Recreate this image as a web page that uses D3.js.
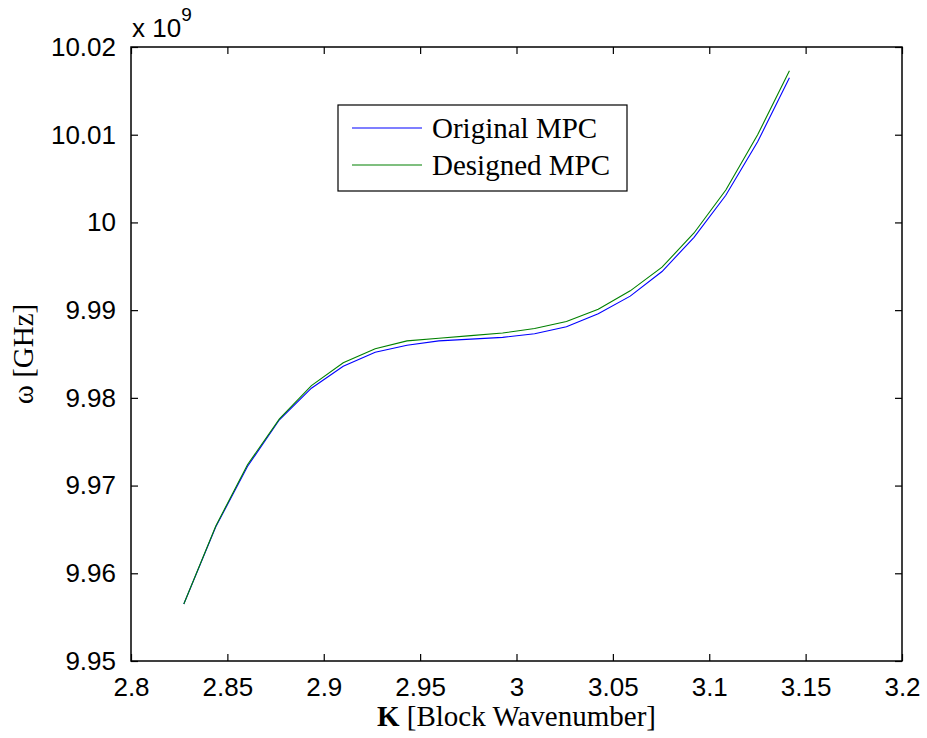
<!DOCTYPE html>
<html>
<head>
<meta charset="utf-8">
<script src="https://cdn.jsdelivr.net/npm/d3@7"></script>
<style>
  html, body { margin: 0; padding: 0; background: #fff; }
  svg { display: block; }
</style>
</head>
<body>
<svg id="chart" width="927" height="738"></svg>
<script>
// ---- data ----
const kValues = [2.8274, 2.8440, 2.8605, 2.8770, 2.8936, 2.9101, 2.9267, 2.9432, 2.9597, 2.9763,
                 2.9928, 3.0094, 3.0259, 3.0424, 3.0590, 3.0755, 3.0921, 3.1086, 3.1251, 3.1416];
const originalMPC = [9.9565, 9.9653, 9.9722, 9.9775, 9.9811, 9.9836, 9.9852, 9.9860, 9.9865, 9.9867,
                     9.9869, 9.9873, 9.9881, 9.9896, 9.9916, 9.9944, 9.9983, 10.0031, 10.0092, 10.0165];
const designedMPC = [9.9565, 9.9654, 9.9724, 9.9776, 9.9814, 9.9840, 9.9856, 9.9865, 9.9868, 9.9871,
                     9.9874, 9.9879, 9.9887, 9.9901, 9.9922, 9.9949, 9.9988, 10.0037, 10.0100, 10.0173];
const xTicks = [2.8, 2.85, 2.9, 2.95, 3, 3.05, 3.1, 3.15, 3.2];
const yTicks = [9.95, 9.96, 9.97, 9.98, 9.99, 10, 10.01, 10.02];
const seriesNames = ["Original MPC", "Designed MPC"];
const seriesColors = ["#0000ff", "#008000"];

// ---- layout ----
const L = 131, R = 902, T = 47, B = 661;
const svg = d3.select("#chart");
const x = d3.scaleLinear().domain([2.8, 3.2]).range([L, R]);
const y = d3.scaleLinear().domain([9.95, 10.02]).range([B, T]);

const tickFont = "'Liberation Sans', Arial, sans-serif";
const serif = "'Liberation Serif', 'Times New Roman', serif";
const fmt = d => String(+d.toFixed(2));

// axes with inward ticks
const tickLen = 7;
const gx = svg.append("g").attr("transform", `translate(0,${B})`)
  .call(d3.axisBottom(x).tickValues(xTicks).tickSizeInner(-tickLen).tickSizeOuter(0).tickPadding(tickLen + 10).tickFormat(fmt));
const gxt = svg.append("g").attr("transform", `translate(0,${T})`)
  .call(d3.axisTop(x).tickValues(xTicks).tickSizeInner(-tickLen).tickSizeOuter(0).tickFormat(""));
const gy = svg.append("g").attr("transform", `translate(${L},0)`)
  .call(d3.axisLeft(y).tickValues(yTicks).tickSizeInner(-tickLen).tickSizeOuter(0).tickPadding(tickLen + 8).tickFormat(fmt));
const gyr = svg.append("g").attr("transform", `translate(${R},0)`)
  .call(d3.axisRight(y).tickValues(yTicks).tickSizeInner(-tickLen).tickSizeOuter(0).tickFormat(""));

[gx, gxt, gy, gyr].forEach(g => {
  g.select(".domain").remove();
  g.selectAll(".tick line").attr("stroke", "#000").attr("stroke-width", 1.2);
  g.selectAll(".tick text").attr("fill", "#000").style("font-family", tickFont).style("font-size", "26px");
});
gx.selectAll(".tick text").attr("dy", "0.71em");

// box
svg.append("rect").attr("x", L).attr("y", T).attr("width", R - L).attr("height", B - T)
  .attr("fill", "none").attr("stroke", "#000").attr("stroke-width", 1.5);

// lines
const line = d3.line().x((d, i) => x(kValues[i])).y(d => y(d));
[originalMPC, designedMPC].forEach((s, i) => {
  svg.append("path").datum(s).attr("d", line).attr("fill", "none")
    .attr("stroke", seriesColors[i]).attr("stroke-width", 1.1);
});
// draw blue on top at start where they overlap? keep order: green drawn last as in reference

// exponent label
const ex = svg.append("text").attr("x", 132).attr("y", 37)
  .style("font-family", tickFont).style("font-size", "26px").attr("fill", "#000");
ex.append("tspan").text("x 10");
ex.append("tspan").attr("dy", -16).style("font-size", "19px").text("9");

// axis titles
const xl = svg.append("text").attr("x", (L + R) / 2).attr("y", 726).attr("text-anchor", "middle")
  .style("font-family", serif).style("font-size", "29px").attr("fill", "#000");
xl.append("tspan").style("font-weight", "bold").text("K");
xl.append("tspan").text(" [Block Wavenumber]");

svg.append("text").attr("transform", `translate(33,${(T + B) / 2}) rotate(-90)`)
  .attr("text-anchor", "middle").style("font-family", serif).style("font-size", "29px")
  .attr("fill", "#000").text("ω [GHz]");

// legend
const lg = svg.append("g");
lg.append("rect").attr("x", 338).attr("y", 105).attr("width", 289).attr("height", 86)
  .attr("fill", "#fff").attr("stroke", "#000").attr("stroke-width", 1.2);
seriesNames.forEach((n, i) => {
  const yy = 128 + i * 37;
  lg.append("line").attr("x1", 352).attr("x2", 422).attr("y1", yy).attr("y2", yy)
    .attr("stroke", seriesColors[i]).attr("stroke-width", 1.1);
  lg.append("text").attr("x", 432).attr("y", yy + 10).style("font-family", serif)
    .style("font-size", "29px").attr("fill", "#000").text(n);
});
</script>
</body>
</html>
